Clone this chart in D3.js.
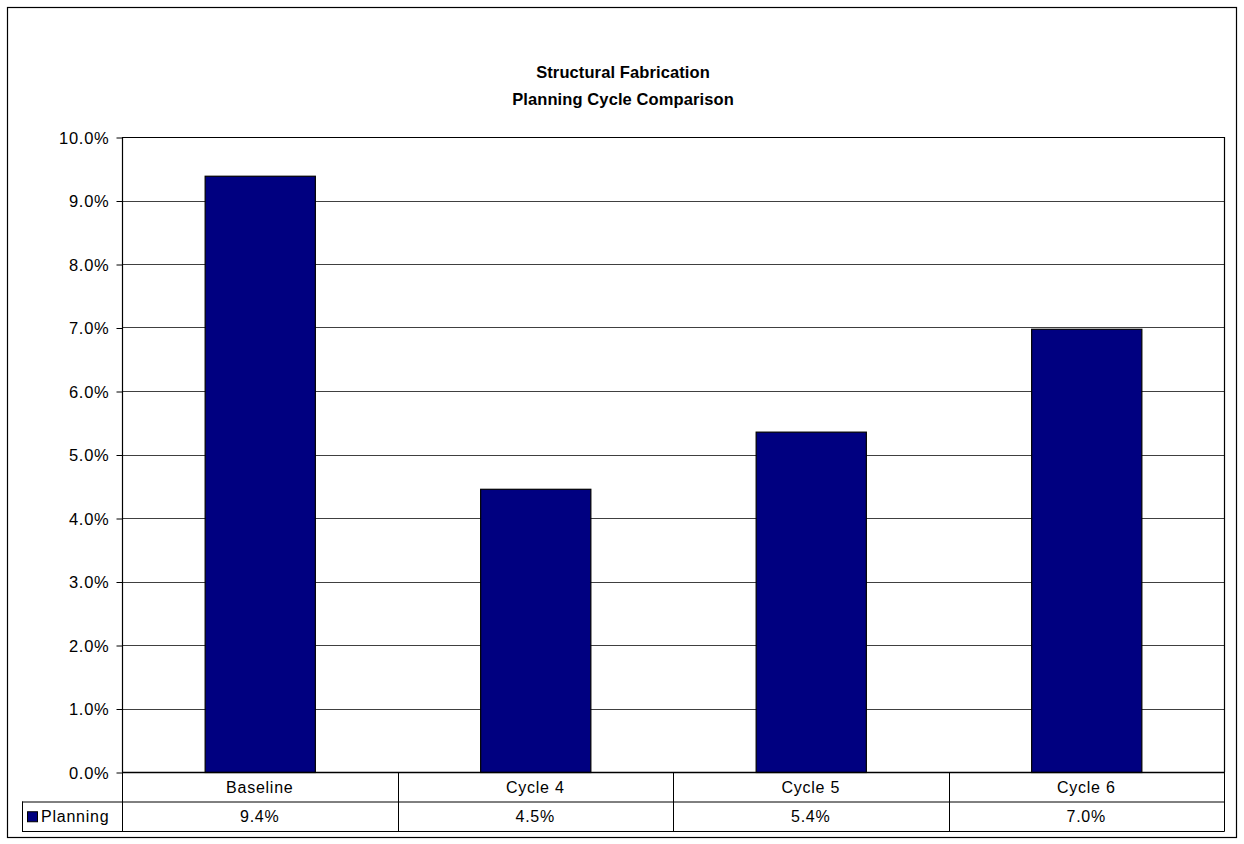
<!DOCTYPE html>
<html><head><meta charset="utf-8">
<script src="https://cdn.jsdelivr.net/npm/d3@7"></script>
<style>body{margin:0;background:#fff;}svg{display:block;font-family:"Liberation Sans",Arial,sans-serif;}</style>
</head><body><svg id="c" width="1244" height="844"></svg>
<script>
const categories = ["Baseline", "Cycle 4", "Cycle 5", "Cycle 6"];
const planning = [0.0939, 0.0446, 0.0536, 0.0698];
const seriesName = "Planning";
const yTicks = [0, 0.01, 0.02, 0.03, 0.04, 0.05, 0.06, 0.07, 0.08, 0.09, 0.10];
const titleLines = ["Structural Fabrication", "Planning Cycle Comparison"];

const svg = d3.select("#c");
const L = 122, R = 1224, T = 137, B = 772;
const rowH = 29.5;
const FS = 16, LS = 0.75;

svg.append("rect").attr("x", 7.5).attr("y", 7.5).attr("width", 1229).attr("height", 830)
  .attr("fill", "#fff").attr("stroke", "#000").attr("stroke-width", 1.2);

const title = svg.append("text").attr("text-anchor", "middle").attr("font-weight", "bold")
  .attr("font-size", 16.5).attr("letter-spacing", 0.1);
titleLines.forEach((t, i) => title.append("tspan").attr("x", 623).attr("y", 78 + i * 27).text(t));

const x = d3.scaleBand().domain(categories).range([L, R]).paddingInner(0).paddingOuter(0);
const y = d3.scaleLinear().domain([0, 0.10]).range([B, T]);

// gridlines
svg.append("g").selectAll("line").data(yTicks.slice(1, -1)).join("line")
  .attr("x1", L).attr("x2", R).attr("y1", d => Math.round(y(d)) + 0.5).attr("y2", d => Math.round(y(d)) + 0.5)
  .attr("stroke", "#404040").attr("stroke-width", 1);

// plot border
svg.append("path").attr("d", `M${L + 0.5},${B}V${T + 0.5}H${R + 0.5}V${B}`).attr("fill", "none").attr("stroke", "#000").attr("stroke-width", 1.2);

// y axis
const yAxis = d3.axisLeft(y).tickValues(yTicks).tickFormat(d3.format(".1%")).tickSize(6).tickPadding(7);
const ya = svg.append("g").attr("transform", `translate(${L + 0.5},0.5)`).call(yAxis);
ya.select(".domain").remove();
ya.selectAll(".tick line").attr("stroke", "#000");
ya.selectAll(".tick text").attr("font-size", 16.5).attr("letter-spacing", LS).attr("fill", "#000")
  .attr("font-family", "Liberation Sans, Arial, sans-serif").attr("dy", "0.35em");

// bars
const bw = x.bandwidth() * 0.4;
svg.append("g").selectAll("rect").data(categories).join("rect")
  .attr("x", d => x(d) + (x.bandwidth() - bw) / 2 + 0.5)
  .attr("y", (d, i) => y(planning[i]) + 0.5)
  .attr("width", bw)
  .attr("height", (d, i) => B - y(planning[i]))
  .attr("fill", "#000080").attr("stroke", "#000").attr("stroke-width", 1.2);

// data table
const tbl = svg.append("g").attr("stroke", "#000").attr("stroke-width", 1).attr("fill", "none");
tbl.append("line").attr("x1", L).attr("x2", R + 0.5).attr("y1", B + 0.5).attr("y2", B + 0.5).attr("stroke-width", 1.5);
tbl.append("line").attr("x1", 22).attr("x2", R + 0.5).attr("y1", B + rowH + 0.5).attr("y2", B + rowH + 0.5);
tbl.append("line").attr("x1", 22).attr("x2", R + 0.5).attr("y1", B + 2 * rowH + 0.5).attr("y2", B + 2 * rowH + 0.5);
tbl.append("line").attr("x1", 22.5).attr("x2", 22.5).attr("y1", B + rowH).attr("y2", B + 2 * rowH + 0.5);
const seps = [L].concat(categories.map(c => x(c) + x.bandwidth()));
tbl.selectAll("line.sep").data(seps).join("line").attr("class", "sep")
  .attr("x1", d => Math.round(d) + 0.5).attr("x2", d => Math.round(d) + 0.5)
  .attr("y1", B).attr("y2", B + 2 * rowH + 0.5);

const tx = svg.append("g").attr("font-size", FS).attr("letter-spacing", LS).attr("fill", "#000").attr("text-anchor", "middle");
tx.selectAll("text.cat").data(categories).join("text").attr("class", "cat")
  .attr("x", d => x(d) + x.bandwidth() / 2).attr("y", B + rowH / 2 + 6).text(d => d);
tx.selectAll("text.val").data(planning).join("text").attr("class", "val")
  .attr("x", (d, i) => x(categories[i]) + x.bandwidth() / 2).attr("y", B + rowH * 1.5 + 6)
  .text(d => d3.format(".1%")(d));

// legend key
svg.append("rect").attr("x", 27.5).attr("y", B + rowH * 1.5 - 4.5).attr("width", 10).attr("height", 10)
  .attr("fill", "#000080").attr("stroke", "#000").attr("stroke-width", 1);
svg.append("text").attr("x", 41).attr("y", B + rowH * 1.5 + 6).attr("font-size", FS).attr("letter-spacing", LS).text(seriesName);
</script></body></html>
